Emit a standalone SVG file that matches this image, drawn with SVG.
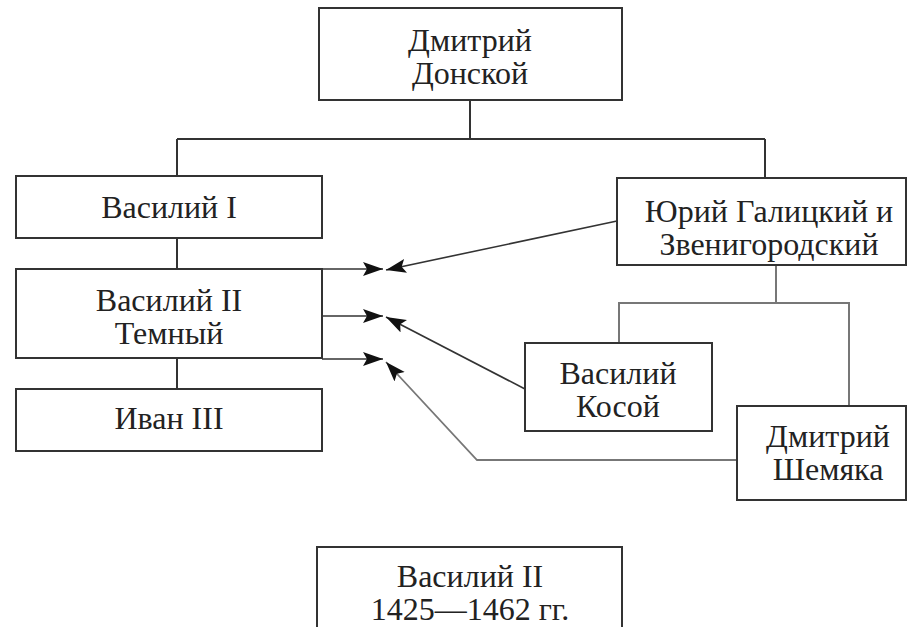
<svg xmlns="http://www.w3.org/2000/svg" width="908" height="627" viewBox="0 0 908 627">
<defs>
<marker id="ah" markerUnits="userSpaceOnUse" markerWidth="22" markerHeight="16" refX="20" refY="7" orient="auto">
<path d="M0,0 L20,7 L0,14 L4,7 z" fill="#111"/>
</marker>
</defs>
<rect width="908" height="627" fill="#fff"/>
<g id="connectors" fill="none">
<path stroke="#333" stroke-width="2" d="M470,100 V139 M177,139 H765 M177,139 V176 M765,139 V178 M177,238 V269 M177,358 V389"/>
<path stroke="#777" stroke-width="2" d="M776,265 V303 M619,343 V303 H849 V406"/>
<g stroke="#333" stroke-width="1.6" marker-end="url(#ah)">
<path d="M322,269 H383"/>
<path d="M322,316 H383"/>
<path d="M322,359 H383"/>
<path d="M617,221 L386,270"/>
<path d="M525,389 L386,317"/>
</g>
<path stroke="#777" stroke-width="1.8" d="M737,460 H477 L386,362" marker-end="url(#ah)"/>
</g>
<g font-family="Liberation Serif" font-size="32" fill="#222" text-anchor="middle">
<g id="dmitry-donskoy">
<rect fill="#fff" stroke="#333" stroke-width="2" x="319" y="8" width="303" height="92"/>
<text x="470" y="51">Дмитрий</text>
<text x="470" y="84">Донской</text>
</g>
<g id="vasily-1">
<rect fill="#fff" stroke="#333" stroke-width="2" x="16" y="176" width="306" height="62"/>
<text x="169" y="218">Василий I</text>
</g>
<g id="vasily-2">
<rect fill="#fff" stroke="#333" stroke-width="2" x="16" y="269" width="306" height="89"/>
<text x="169" y="311">Василий II</text>
<text x="169" y="344">Темный</text>
</g>
<g id="ivan-3">
<rect fill="#fff" stroke="#333" stroke-width="2" x="16" y="389" width="306" height="62"/>
<text x="169" y="429">Иван III</text>
</g>
<g id="yury">
<rect fill="#fff" stroke="#333" stroke-width="2" x="617" y="178" width="289" height="87"/>
<text x="769" y="222">Юрий Галицкий и</text>
<text x="769" y="255">Звенигородский</text>
</g>
<g id="vasily-kosoy">
<rect fill="#fff" stroke="#333" stroke-width="2" x="525" y="343" width="187" height="88"/>
<text x="618" y="384">Василий</text>
<text x="618" y="417">Косой</text>
</g>
<g id="dmitry-shemyaka">
<rect fill="#fff" stroke="#333" stroke-width="2" x="737" y="406" width="169" height="94"/>
<text x="828" y="447">Дмитрий</text>
<text x="828" y="480">Шемяка</text>
</g>
<g id="vasily-2-dates">
<rect fill="#fff" stroke="#333" stroke-width="2" x="317" y="547" width="305" height="90"/>
<text x="470" y="587">Василий II</text>
<text x="470" y="620">1425—1462 гг.</text>
</g>
</g>
</svg>
